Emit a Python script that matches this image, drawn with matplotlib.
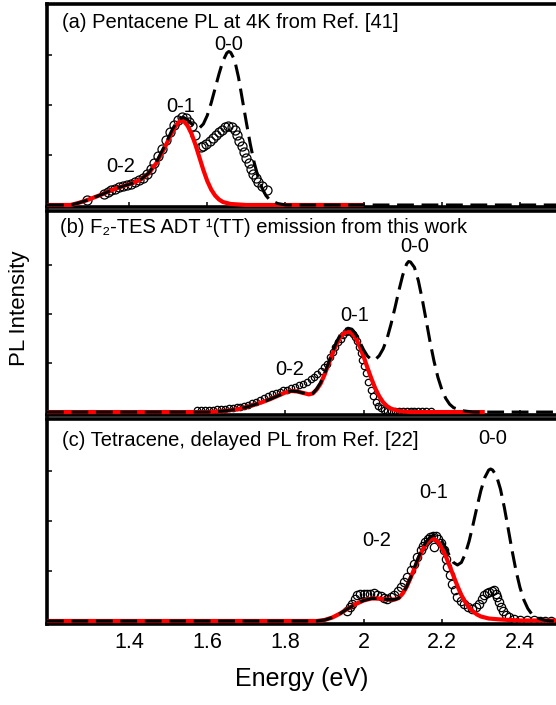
import matplotlib
matplotlib.use("Agg")
import matplotlib.pyplot as plt

plt.rcParams['font.family'] = ['Liberation Sans', 'DejaVu Sans']

# ---------------- data ----------------
# Panel (a) pentacene
a_dash_E = [1.19, 1.25, 1.27, 1.29, 1.31, 1.33, 1.35, 1.37, 1.39, 1.41, 1.43, 1.45, 1.47, 1.49, 1.50, 1.51,
            1.52, 1.53, 1.54, 1.55, 1.56, 1.57, 1.58, 1.59, 1.60, 1.61, 1.62, 1.63, 1.64, 1.65, 1.655, 1.66,
            1.67, 1.68, 1.69, 1.70, 1.71, 1.72, 1.73, 1.74, 1.75, 1.76, 1.78, 1.80, 2.495]
a_dash_Y = [0, 0, 0.04, 0.09, 0.15, 0.21, 0.28, 0.34, 0.39, 0.44, 0.51, 0.64, 0.86, 1.17, 1.33, 1.50,
            1.64, 1.73, 1.75, 1.70, 1.62, 1.56, 1.54, 1.62, 1.79, 2.04, 2.33, 2.62, 2.88, 3.04, 3.07, 3.05,
            2.90, 2.55, 2.10, 1.65, 1.22, 0.85, 0.56, 0.34, 0.19, 0.10, 0.03, 0, 0]
a_red_E = [1.19, 1.25, 1.27, 1.29, 1.31, 1.33, 1.35, 1.37, 1.39, 1.41, 1.43, 1.45, 1.47, 1.49, 1.50, 1.51,
           1.52, 1.53, 1.535, 1.54, 1.55, 1.56, 1.57, 1.58, 1.59, 1.60, 1.61, 1.62, 1.63, 1.64, 1.66, 1.70, 2.00]
a_red_Y = [0, 0, 0.04, 0.09, 0.15, 0.21, 0.28, 0.34, 0.39, 0.44, 0.51, 0.63, 0.84, 1.13, 1.29, 1.45,
           1.59, 1.68, 1.69, 1.68, 1.58, 1.42, 1.20, 0.95, 0.70, 0.48, 0.31, 0.19, 0.11, 0.06, 0.02, 0, 0]
a_data_E = [1.292, 1.335, 1.345, 1.355, 1.365, 1.375, 1.385, 1.395, 1.405, 1.415, 1.425, 1.435, 1.445, 1.455,
            1.465, 1.475, 1.485, 1.495, 1.505, 1.515, 1.525, 1.535, 1.545, 1.553, 1.560, 1.568, 1.583, 1.590,
            1.598, 1.606, 1.614, 1.622, 1.630, 1.638, 1.646, 1.654, 1.662, 1.670, 1.676, 1.682, 1.688, 1.694,
            1.700, 1.706, 1.712, 1.718, 1.724, 1.730, 1.740, 1.752]
a_data_Y = [0.10, 0.22, 0.27, 0.30, 0.33, 0.36, 0.38, 0.40, 0.43, 0.46, 0.50, 0.55, 0.63, 0.72,
            0.84, 0.98, 1.13, 1.30, 1.46, 1.60, 1.70, 1.75, 1.73, 1.66, 1.58, 1.40, 1.17, 1.19,
            1.22, 1.28, 1.35, 1.41, 1.46, 1.51, 1.55, 1.57, 1.56, 1.50, 1.40, 1.29, 1.18, 1.06,
            0.95, 0.84, 0.73, 0.62, 0.54, 0.47, 0.38, 0.30]

# Panel (b) F2-TES ADT
b_dash_E = [1.19, 1.60, 1.64, 1.68, 1.70, 1.72, 1.74, 1.76, 1.78, 1.80, 1.815, 1.83, 1.845, 1.86, 1.87, 1.88,
            1.89, 1.90, 1.91, 1.92, 1.93, 1.94, 1.95, 1.96, 1.97, 1.98, 1.99, 2.00, 2.01, 2.02, 2.03, 2.04,
            2.05, 2.06, 2.07, 2.08, 2.09, 2.10, 2.11, 2.115, 2.12, 2.13, 2.14, 2.15, 2.16, 2.17, 2.18, 2.19,
            2.20, 2.21, 2.22, 2.23, 2.25, 2.28, 2.495]
b_dash_Y = [0, 0, 0.02, 0.06, 0.10, 0.15, 0.20, 0.26, 0.33, 0.40, 0.43, 0.42, 0.39, 0.36, 0.38, 0.47,
            0.60, 0.78, 1.00, 1.22, 1.42, 1.57, 1.67, 1.71, 1.69, 1.59, 1.43, 1.27, 1.14, 1.07, 1.07, 1.15,
            1.29, 1.50, 1.79, 2.12, 2.47, 2.79, 3.02, 3.07, 3.06, 2.95, 2.68, 2.30, 1.87, 1.43, 1.04, 0.71,
            0.46, 0.28, 0.16, 0.09, 0.03, 0, 0]
b_red_E = [1.19, 1.60, 1.64, 1.68, 1.70, 1.72, 1.74, 1.76, 1.78, 1.80, 1.815, 1.83, 1.845, 1.86, 1.87, 1.88,
           1.89, 1.90, 1.91, 1.92, 1.93, 1.94, 1.95, 1.96, 1.97, 1.98, 1.99, 2.00, 2.01, 2.02, 2.03, 2.04,
           2.05, 2.06, 2.07, 2.09, 2.12, 2.31]
b_red_Y = [0, 0, 0.02, 0.06, 0.10, 0.15, 0.20, 0.26, 0.33, 0.40, 0.43, 0.42, 0.39, 0.36, 0.38, 0.46,
           0.58, 0.76, 0.97, 1.18, 1.37, 1.52, 1.61, 1.64, 1.61, 1.51, 1.34, 1.13, 0.90, 0.68, 0.48, 0.32,
           0.20, 0.12, 0.07, 0.02, 0, 0]
b_data_E = [1.574, 1.585, 1.595, 1.605, 1.615, 1.625, 1.635, 1.645, 1.655, 1.665, 1.675, 1.685, 1.695, 1.705,
            1.715, 1.725, 1.735, 1.745, 1.755, 1.765, 1.775, 1.785, 1.795, 1.805, 1.815, 1.825, 1.835, 1.845,
            1.855, 1.865, 1.872, 1.880, 1.890, 1.898, 1.907, 1.915, 1.922, 1.928, 1.935, 1.941, 1.948, 1.954,
            1.961, 1.967, 1.973, 1.979, 1.984, 1.988, 1.993, 1.997, 2.001, 2.005, 2.011, 2.018, 2.024, 2.031,
            2.038, 2.044, 2.052, 2.061, 2.070, 2.080, 2.090, 2.100, 2.110, 2.120, 2.130, 2.140, 2.150, 2.160,
            2.172]
b_data_Y = [0.04, 0.04, 0.045, 0.05, 0.05, 0.055, 0.06, 0.07, 0.08, 0.09, 0.10, 0.11, 0.13, 0.15,
            0.18, 0.21, 0.24, 0.28, 0.32, 0.36, 0.39, 0.41, 0.44, 0.46, 0.49, 0.52, 0.55, 0.58,
            0.62, 0.67, 0.72, 0.77, 0.83, 0.91, 0.99, 1.13, 1.23, 1.33, 1.42, 1.50, 1.58, 1.64,
            1.66, 1.64, 1.60, 1.54, 1.45, 1.33, 1.20, 1.06, 0.93, 0.79, 0.62, 0.45, 0.32, 0.21,
            0.13, 0.075, 0.05, 0.03, 0.03, 0.03, 0.03, 0.03, 0.03, 0.03, 0.03, 0.03, 0.03, 0.03,
            0.03]

# Panel (c) tetracene
c_dash_E = [1.19, 1.88, 1.90, 1.92, 1.94, 1.96, 1.98, 2.00, 2.02, 2.04, 2.06, 2.08, 2.09, 2.10, 2.11, 2.12,
            2.13, 2.14, 2.15, 2.16, 2.17, 2.18, 2.19, 2.20, 2.21, 2.22, 2.23, 2.24, 2.25, 2.26, 2.27, 2.28,
            2.29, 2.30, 2.31, 2.32, 2.325, 2.33, 2.34, 2.35, 2.36, 2.37, 2.38, 2.39, 2.40, 2.41, 2.42, 2.43,
            2.44, 2.46, 2.48, 2.495]
c_dash_Y = [0, 0, 0.02, 0.07, 0.15, 0.25, 0.34, 0.41, 0.45, 0.45, 0.43, 0.43, 0.46, 0.55, 0.69, 0.87,
            1.07, 1.27, 1.45, 1.59, 1.68, 1.72, 1.69, 1.60, 1.46, 1.30, 1.17, 1.12, 1.17, 1.34, 1.60, 1.93,
            2.28, 2.61, 2.87, 3.02, 3.04, 3.02, 2.90, 2.64, 2.27, 1.84, 1.40, 1.00, 0.67, 0.42, 0.25, 0.14,
            0.07, 0.02, 0, 0]
c_red_E = [1.19, 1.88, 1.90, 1.92, 1.94, 1.96, 1.98, 2.00, 2.02, 2.04, 2.06, 2.08, 2.09, 2.10, 2.11, 2.12,
           2.13, 2.14, 2.15, 2.16, 2.17, 2.175, 2.18, 2.19, 2.20, 2.21, 2.22, 2.23, 2.24, 2.25, 2.26, 2.27,
           2.28, 2.29, 2.30, 2.32, 2.35, 2.40, 2.495]
c_red_Y = [0, 0, 0.02, 0.07, 0.15, 0.25, 0.34, 0.41, 0.45, 0.45, 0.43, 0.43, 0.46, 0.55, 0.68, 0.86,
           1.05, 1.24, 1.41, 1.55, 1.63, 1.65, 1.64, 1.58, 1.46, 1.30, 1.10, 0.90, 0.70, 0.52, 0.38, 0.27,
           0.19, 0.13, 0.09, 0.05, 0.03, 0.01, 0.01]
c_data_E = [1.958, 1.965, 1.971, 1.978, 1.984, 1.992, 2.000, 2.008, 2.016, 2.026, 2.035, 2.044, 2.052, 2.061,
            2.070, 2.078, 2.087, 2.095, 2.103, 2.112, 2.120, 2.129, 2.137, 2.146, 2.152, 2.158, 2.165, 2.171,
            2.178, 2.184, 2.190, 2.181, 2.197, 2.205, 2.210, 2.214, 2.220, 2.227, 2.233, 2.240, 2.248, 2.257,
            2.267, 2.278, 2.287, 2.295, 2.302, 2.308, 2.315, 2.321, 2.328, 2.334, 2.338, 2.342, 2.346, 2.351,
            2.357, 2.363, 2.372, 2.385, 2.400, 2.419, 2.435, 2.450, 2.465, 2.479]
c_data_Y = [0.21, 0.28, 0.35, 0.44, 0.52, 0.54, 0.55, 0.54, 0.55, 0.56, 0.53, 0.50, 0.46, 0.44,
            0.48, 0.52, 0.60, 0.69, 0.79, 0.89, 1.02, 1.15, 1.29, 1.42, 1.50, 1.58, 1.64, 1.69,
            1.71, 1.70, 1.65, 1.49, 1.56, 1.42, 1.25, 1.09, 0.92, 0.75, 0.62, 0.49, 0.41, 0.35,
            0.29, 0.25, 0.28, 0.35, 0.44, 0.52, 0.56, 0.59, 0.60, 0.62, 0.55, 0.49, 0.39, 0.29,
            0.20, 0.12, 0.08, 0.05, 0.03, 0.02, 0.02, 0.01, 0.01, 0.01]

titles = ["(a) Pentacene PL at 4K from Ref. [41]",
          "(b) F\u2082-TES ADT \u00b9(TT) emission from this work",
          "(c) Tetracene, delayed PL from Ref. [22]"]
title_pos = [(1.228, 3.64), (1.223, 3.76), (1.228, 3.62)]
peak_names = ["0-0", "0-1", "0-2"]
peak_pos = [[(1.654, 3.20), (1.531, 1.96), (1.379, 0.76)],
            [(2.131, 3.37), (1.977, 1.96), (1.810, 0.86)],
            [(2.331, 3.66), (2.179, 2.58), (2.033, 1.60)]]
x_ticks = [1.4, 1.6, 1.8, 2.0, 2.2, 2.4]
x_tick_labels = ["1.4", "1.6", "1.8", "2", "2.2", "2.4"]
y_ticks = [1, 2, 3]

# ---------------- layout ----------------
W, H = 556, 705
fig = plt.figure(figsize=(W / 100, H / 100), dpi=100)

panels = [
    dict(top=4, bot=207, ylim=(-0.04, 4.02), dash=(a_dash_E, a_dash_Y), red=(a_red_E, a_red_Y),
         data=(a_data_E, a_data_Y), ms=6.5),
    dict(top=211, bot=415, ylim=(-0.06, 4.10), dash=(b_dash_E, b_dash_Y), red=(b_red_E, b_red_Y),
         data=(b_data_E, b_data_Y), ms=4.6),
    dict(top=419, bot=624, ylim=(-0.06, 4.04), dash=(c_dash_E, c_dash_Y), red=(c_red_E, c_red_Y),
         data=(c_data_E, c_data_Y), ms=6.0),
]

left_px = 47
for i, p in enumerate(panels):
    ax = fig.add_axes([left_px / W, 1 - p['bot'] / H, 1 - left_px / W + 0.002, (p['bot'] - p['top']) / H])
    ax.set_xlim(1.19, 2.495)
    ax.set_ylim(*p['ylim'])
    ax.plot(p['data'][0], p['data'][1], linestyle='none', marker='o', ms=p['ms'],
            mfc='none', mec='black', mew=0.9, zorder=2)
    ax.plot(p['red'][0], p['red'][1], color='#ff0000', lw=3.0, zorder=3, solid_capstyle='butt')
    ax.plot(p['dash'][0], p['dash'][1], color='black', lw=2.2, dashes=(5.5, 2.5), zorder=4)
    for sp in ['left', 'top', 'bottom']:
        ax.spines[sp].set_linewidth(2.6)
    ax.spines['right'].set_visible(False)
    ax.set_xticks(x_ticks)
    ax.set_yticks(y_ticks)
    ax.tick_params(axis='both', direction='in', length=3.8, width=1.1, labelleft=False)
    if i < 2:
        ax.tick_params(axis='x', labelbottom=False)
    else:
        ax.set_xticklabels(x_tick_labels)
        ax.tick_params(axis='x', labelsize=15.5, pad=6)
    ax.text(title_pos[i][0], title_pos[i][1], titles[i], fontsize=14.5, ha='left', va='center')
    for name, (px, py) in zip(peak_names, peak_pos[i]):
        ax.text(px, py, name, fontsize=14.5, ha='center', va='center')
    if i == 2:
        ax.set_xlabel("Energy (eV)", fontsize=18, labelpad=10)

fig.text(20 / W, 1 - 308 / H, "PL Intensity", rotation=90, fontsize=16, ha='center', va='center')

fig.savefig("out.png", dpi=100)
